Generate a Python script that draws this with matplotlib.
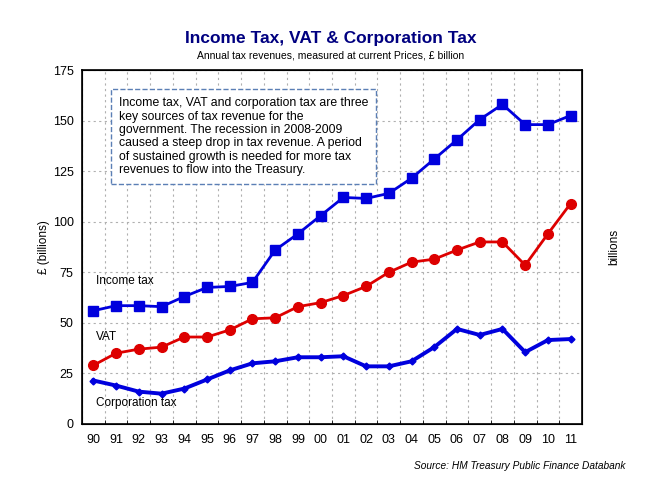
import matplotlib.pyplot as plt
import numpy as np

years = ['90', '91', '92', '93', '94', '95', '96', '97', '98', '99', '00',
         '01', '02', '03', '04', '05', '06', '07', '08', '09', '10', '11']
income_tax = [56, 58.5, 58.5, 58, 63, 67.5, 68, 70, 86, 94, 103,
              112, 111.5, 114, 121.5, 131, 140.5, 150.5, 158, 148, 148, 152.5]
vat = [29, 35, 37, 38, 43, 43, 46.5, 52, 52.5, 58, 60,
       63.5, 68, 75, 80, 81.5, 86, 90, 90, 78.5, 94, 109]
corporation_tax = [21.5, 19, 16, 15, 17.5, 22, 26.5, 30, 31, 33, 33,
                   33.5, 28.5, 28.5, 31, 38, 47, 44, 47, 35.5, 41.5, 42]
yticks = [0, 25, 50, 75, 100, 125, 150, 175]

note = ("Income tax, VAT and corporation tax are three\n"
        "key sources of tax revenue for the\n"
        "government. The recession in 2008-2009\n"
        "caused a steep drop in tax revenue. A period\n"
        "of sustained growth is needed for more tax\n"
        "revenues to flow into the Treasury.")

plt.rcParams['font.family'] = ['Liberation Sans', 'DejaVu Sans']

fig = plt.figure(figsize=(6.61, 4.87), dpi=100)
ax = fig.add_axes([82 / 661, 1 - 424 / 487, 500 / 661, 354 / 487])

x = np.arange(len(years))
ax.plot(x, income_tax, color='#0000dd', lw=2, marker='s', ms=7.5, zorder=3)
ax.plot(x, vat, color='#dd0000', lw=2, marker='o', ms=7, zorder=3)
ax.plot(x, corporation_tax, color='#0000dd', lw=2.8, marker='D', ms=3.5, zorder=3)

ax.set_xlim(-0.5, len(years) - 0.5)
ax.set_ylim(0, 175)

# labels at category centres, grid/ticks at category boundaries
ax.set_xticks(x)
ax.set_xticklabels(years, fontsize=9)
ax.tick_params(axis='x', which='major', length=0, pad=7)
ax.set_xticks(np.arange(-0.5, len(years)), minor=True)
ax.tick_params(axis='x', which='minor', length=3, direction='in')
ax.grid(True, which='minor', axis='x', color='#b0b0b0', ls=(0, (2, 3)), lw=0.8)

ax.set_yticks(yticks)
ax.set_yticklabels([str(v) for v in yticks], fontsize=9)
ax.tick_params(axis='y', length=0, pad=6, labelright=True)
ax.grid(True, which='major', axis='y', color='#b0b0b0', ls=(0, (2, 3)), lw=0.8)

for s in ax.spines.values():
    s.set_linewidth(1.2)

ax.set_ylabel('£ (billions)', fontsize=8.5, labelpad=2)
ax2 = ax.twinx()
ax2.set_ylim(0, 175)
ax2.set_yticks([])
ax2.set_ylabel('billions', fontsize=8.5, labelpad=19)

ax.text(0.1, 70.5, 'Income tax', fontsize=8.5, ha='left', va='center')
ax.text(0.1, 43, 'VAT', fontsize=8.5, ha='left', va='center')
ax.text(0.1, 10.5, 'Corporation tax', fontsize=8.5, ha='left', va='center')

ax.text(1.12, 161.5, note, fontsize=8.8, ha='left', va='top', linespacing=1.15,
        bbox=dict(boxstyle='square,pad=0.65', fc='white', ec='#5b7fb5',
                  ls='--', lw=1), zorder=5)

fig.text(0.5, 1 - 39 / 487, 'Income Tax, VAT & Corporation Tax', ha='center',
         va='center', fontsize=12.5, fontweight='bold', color='#000080')
fig.text(0.5, 1 - 55 / 487, 'Annual tax revenues, measured at current Prices, £ billion',
         ha='center', va='center', fontsize=7.5)
fig.text(625 / 661, 1 - 466 / 487, 'Source: HM Treasury Public Finance Databank',
         ha='right', va='center', fontsize=7.3, style='italic')

fig.savefig('out.png', dpi=100)
